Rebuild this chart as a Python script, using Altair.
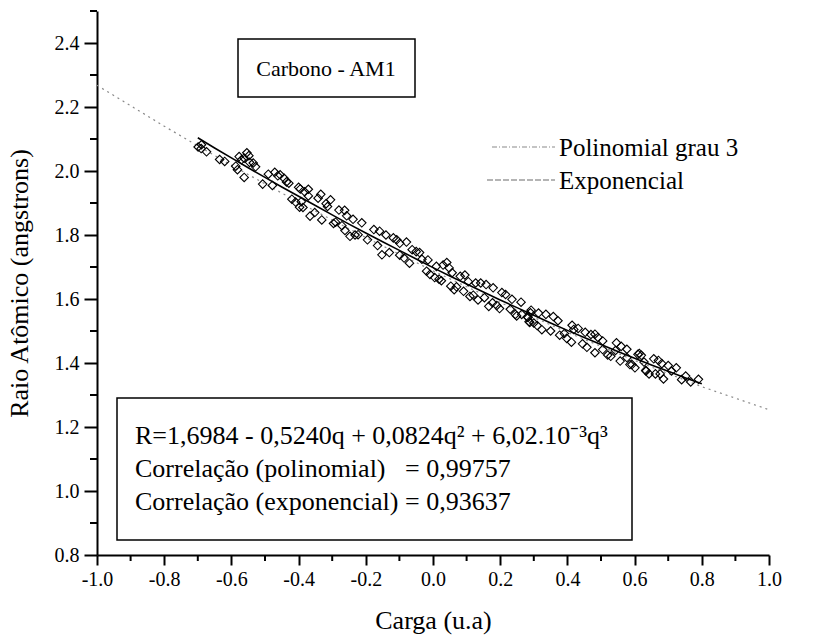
import altair as alt
import pandas as pd

# ---------------- data ----------------
carga = [
    -0.699, -0.689, -0.674, -0.635, -0.587, -0.582, -0.577, -0.562, -0.562, -0.554,
    -0.546, -0.528, -0.507, -0.471, -0.455, -0.443, -0.429, -0.395, -0.409, -0.397,
    -0.400, -0.371, -0.371, -0.392, -0.387, -0.366, -0.331, -0.334, -0.305, -0.314,
    -0.263, -0.257, -0.238, -0.290, -0.271, -0.262, -0.247, -0.223, -0.176, -0.159,
    -0.165, -0.152, -0.118, -0.099, -0.079, -0.062, -0.099, -0.086, -0.050,
    -0.033, 0.010, -0.019, -0.009, 0.005, 0.025, 0.041, 0.048, 0.057, 0.081,
    0.053, 0.063, 0.105, 0.127, 0.158, 0.179, 0.091, 0.110, 0.134, 0.153,
    0.166, 0.177, 0.198, 0.216, 0.235, 0.230, 0.249, 0.264, 0.283, 0.292, 0.288,
    0.290, 0.314, 0.281, 0.286, 0.310, 0.324, 0.358, 0.377, 0.391, 0.414,
    0.419, 0.412, 0.453, 0.482, 0.491, 0.458, 0.482, 0.505, 0.505, 0.529,
    0.546, 0.543, 0.557, 0.577, 0.577, 0.586, 0.601, 0.610, 0.634, 0.628,
    0.614, 0.633, 0.643, 0.657, 0.671, 0.681, 0.676, 0.686, 0.710, 0.724,
    0.752, 0.767, 0.790,
    -0.690, -0.620, -0.570, -0.548, -0.535, -0.490, -0.478, -0.462, -0.436, -0.420,
    -0.382, -0.352, -0.342, -0.318, -0.296, -0.280, -0.232, -0.212, -0.195, -0.140,
    -0.130, -0.108, -0.070, -0.040, -0.015, 0.018, 0.030, 0.070, 0.095, 0.120,
    0.142, 0.190, 0.205, 0.245, 0.262, 0.300, 0.336, 0.350, 0.372, 0.398,
    0.432, 0.445, 0.470, 0.520, 0.560, 0.592, 0.620, 0.662, 0.700, 0.740,
]
raio = [
    2.075, 2.082, 2.060, 2.036, 2.015, 2.004, 2.045, 2.040, 1.980, 2.057,
    2.027, 2.013, 1.959, 1.996, 1.988, 1.977, 1.962, 1.944, 1.903, 1.887,
    1.949, 1.943, 1.922, 1.904, 1.886, 1.859, 1.847, 1.927, 1.910, 1.889,
    1.877, 1.860, 1.849, 1.840, 1.829, 1.814, 1.796, 1.801, 1.817, 1.812,
    1.767, 1.738, 1.791, 1.774, 1.778, 1.754, 1.737, 1.728, 1.748,
    1.724, 1.702, 1.687, 1.677, 1.667, 1.657, 1.714, 1.697, 1.682, 1.671,
    1.640, 1.629, 1.654, 1.650, 1.645, 1.635, 1.624, 1.608, 1.597, 1.604,
    1.577, 1.588, 1.570, 1.614, 1.599, 1.568, 1.547, 1.552, 1.542, 1.565, 1.527,
    1.557, 1.556, 1.544, 1.529, 1.517, 1.504, 1.545, 1.487, 1.492, 1.518,
    1.505, 1.465, 1.496, 1.490, 1.480, 1.449, 1.432, 1.469, 1.442, 1.421,
    1.463, 1.439, 1.406, 1.443, 1.417, 1.395, 1.385, 1.427, 1.375, 1.403,
    1.430, 1.377, 1.366, 1.413, 1.408, 1.398, 1.366, 1.350, 1.375, 1.385,
    1.359, 1.341, 1.349,
    2.070, 2.030, 2.035, 2.048, 2.025, 1.990, 1.955, 1.985, 1.966, 1.912,
    1.935, 1.870, 1.915, 1.898, 1.836, 1.878, 1.800, 1.838, 1.785, 1.800,
    1.745, 1.785, 1.712, 1.745, 1.722, 1.662, 1.706, 1.638, 1.675, 1.612,
    1.650, 1.580, 1.620, 1.552, 1.590, 1.525, 1.552, 1.500, 1.532, 1.477,
    1.508, 1.460, 1.489, 1.425, 1.452, 1.395, 1.424, 1.366, 1.392, 1.348,
]

# solid fitted curve (black), read along its length
poly_q = [-0.70, -0.65, -0.60, -0.55, -0.50, -0.45, -0.40, -0.35, -0.30, -0.25,
          -0.20, -0.15, -0.10, -0.05, 0.00, 0.05, 0.10, 0.15, 0.20, 0.25,
          0.30, 0.35, 0.40, 0.45, 0.50, 0.55, 0.60, 0.65, 0.70, 0.75, 0.80]
poly_r = [2.104, 2.072, 2.041, 2.010, 1.980, 1.950, 1.921, 1.892, 1.863, 1.834,
          1.806, 1.779, 1.752, 1.725, 1.698, 1.672, 1.647, 1.622, 1.597, 1.573,
          1.549, 1.525, 1.502, 1.480, 1.458, 1.436, 1.415, 1.394, 1.374, 1.354, 1.335]

# dotted curve across the whole axis
dot_q = [-1.0, -0.8, -0.6, -0.4, -0.2, 0.0, 0.2, 0.4, 0.6, 0.8, 1.0]
dot_r = [2.268, 2.140, 2.018, 1.902, 1.792, 1.688, 1.589, 1.496, 1.408, 1.326, 1.254]

x_major = [-1.0, -0.8, -0.6, -0.4, -0.2, 0.0, 0.2, 0.4, 0.6, 0.8, 1.0]
x_minor = [-0.9, -0.7, -0.5, -0.3, -0.1, 0.1, 0.3, 0.5, 0.7, 0.9]
y_major = [0.8, 1.0, 1.2, 1.4, 1.6, 1.8, 2.0, 2.2, 2.4]
y_minor = [0.9, 1.1, 1.3, 1.5, 1.7, 1.9, 2.1, 2.3, 2.5]

title_box = ["Carbono - AM1"]
legend_labels = ["Polinomial grau 3", "Exponencial"]
eq_lines = ["R=1,6984 - 0,5240q + 0,0824q\u00b2 + 6,02.10\u207b\u00b3q\u00b3",
            "Correla\u00e7\u00e3o (polinomial)\u00a0\u00a0 = 0,99757",
            "Correla\u00e7\u00e3o (exponencial) = 0,93637"]

FONT = "Liberation Serif, Times New Roman, serif"
W, H = 672, 544

xs = alt.Scale(domain=[-1.0, 1.0], nice=False, zero=False)
ys = alt.Scale(domain=[0.8, 2.5], nice=False, zero=False)

fmt = "replace(format(datum.value, '.1f'), '\u2212', '-')"

x_axis = alt.Axis(values=x_major, labelExpr=fmt, ticks=True, tickSize=10, tickWidth=2,
                  domainWidth=2, domainColor="black", tickColor="black",
                  labelColor="black", labelFont=FONT, labelFontSize=20,
                  labelPadding=4, grid=False, title="Carga (u.a)",
                  titleFont=FONT, titleFontSize=26, titleFontWeight="normal",
                  titleColor="black", titlePadding=18, labelFlush=False)
y_axis = alt.Axis(values=y_major, labelExpr=fmt, ticks=True, tickSize=13, tickWidth=2,
                  domainWidth=2, domainColor="black", tickColor="black",
                  labelColor="black", labelFont=FONT, labelFontSize=20,
                  labelPadding=5, grid=False, title="Raio At\u00f4mico (angstrons)",
                  titleFont=FONT, titleFontSize=26, titleFontWeight="normal",
                  titleColor="black", titlePadding=22, labelFlush=False)

X = lambda f: alt.X(f, scale=xs, axis=x_axis)
Y = lambda f: alt.Y(f, scale=ys, axis=y_axis)

df_pts = pd.DataFrame({"q": carga, "r": raio})
df_poly = pd.DataFrame({"q": poly_q, "r": poly_r})
df_dot = pd.DataFrame({"q": dot_q, "r": dot_r})

dotted = alt.Chart(df_dot).mark_line(color="#8a8a8a", strokeWidth=1.2,
                                     strokeDash=[2, 4]).encode(x=X("q:Q"), y=Y("r:Q"))
solid = alt.Chart(df_poly).mark_line(color="black", strokeWidth=1.6).encode(
    x=X("q:Q"), y=Y("r:Q"))
points = alt.Chart(df_pts).mark_point(shape="diamond", filled=False, color="black",
                                      size=72, strokeWidth=1.1, opacity=1).encode(
    x=X("q:Q"), y=Y("r:Q"))

xmin = alt.Chart(pd.DataFrame({"q": x_minor})).mark_rule(color="black", strokeWidth=2).encode(
    x=X("q:Q"), y=alt.value(H), y2=alt.value(H + 6))
ymin = alt.Chart(pd.DataFrame({"r": y_minor})).mark_rule(color="black", strokeWidth=2).encode(
    y=Y("r:Q"), x=alt.value(-7), x2=alt.value(0))

# "Carbono - AM1" box
tb = pd.DataFrame({"t": title_box})
tbox = alt.Chart(tb).mark_rect(fill="white", stroke="black", strokeWidth=1.5).encode(
    x=alt.value(141), x2=alt.value(318), y=alt.value(28), y2=alt.value(86))
ttext = alt.Chart(tb).mark_text(font=FONT, fontSize=22, color="black",
                                align="center", baseline="middle").encode(
    text="t:N", x=alt.value(229), y=alt.value(58))

# legend
lg1 = pd.DataFrame({"t": [legend_labels[0]]})
lg2 = pd.DataFrame({"t": [legend_labels[1]]})
leg_l1 = alt.Chart(lg1).mark_rule(color="#8a8a8a", strokeWidth=1.2, strokeDash=[5, 2, 1, 2]).encode(
    x=alt.value(395), x2=alt.value(458), y=alt.value(136))
leg_l2 = alt.Chart(lg2).mark_rule(color="#6a6a6a", strokeWidth=1.2, strokeDash=[6, 2]).encode(
    x=alt.value(390), x2=alt.value(458), y=alt.value(169))
leg_t1 = alt.Chart(lg1).mark_text(font=FONT, fontSize=25, color="black", align="left",
                                  baseline="middle").encode(text="t:N", x=alt.value(462), y=alt.value(137))
leg_t2 = alt.Chart(lg2).mark_text(font=FONT, fontSize=25, color="black", align="left",
                                  baseline="middle").encode(text="t:N", x=alt.value(462), y=alt.value(170))

# equation box
eq = pd.DataFrame({"t": eq_lines})
ebox = alt.Chart(eq.head(1)).mark_rect(fill="white", stroke="black", strokeWidth=1.5).encode(
    x=alt.value(20), x2=alt.value(535), y=alt.value(387), y2=alt.value(529))
etexts = []
for i, yy in enumerate([425, 458, 491]):
    etexts.append(
        alt.Chart(eq.iloc[[i]]).mark_text(font=FONT, fontSize=26, color="black",
                                          align="left", baseline="middle").encode(
            text="t:N", x=alt.value(38), y=alt.value(yy))
    )

chart = alt.layer(
    dotted, solid, points, xmin, ymin,
    tbox, ttext, leg_l1, leg_l2, leg_t1, leg_t2, ebox, *etexts
).properties(
    width=W, height=H,
    autosize=alt.AutoSizeParams(type="none"),
    padding={"left": 97, "top": 11, "right": 45, "bottom": 85},
    background="white",
).configure_view(stroke=None).configure_axis(
    labelFont=FONT, titleFont=FONT, labelFontSize=20, titleFontSize=26,
    ticks=True, tickColor="black"
)

chart.save("out.html", embed_options={"renderer": "svg", "actions": False})
